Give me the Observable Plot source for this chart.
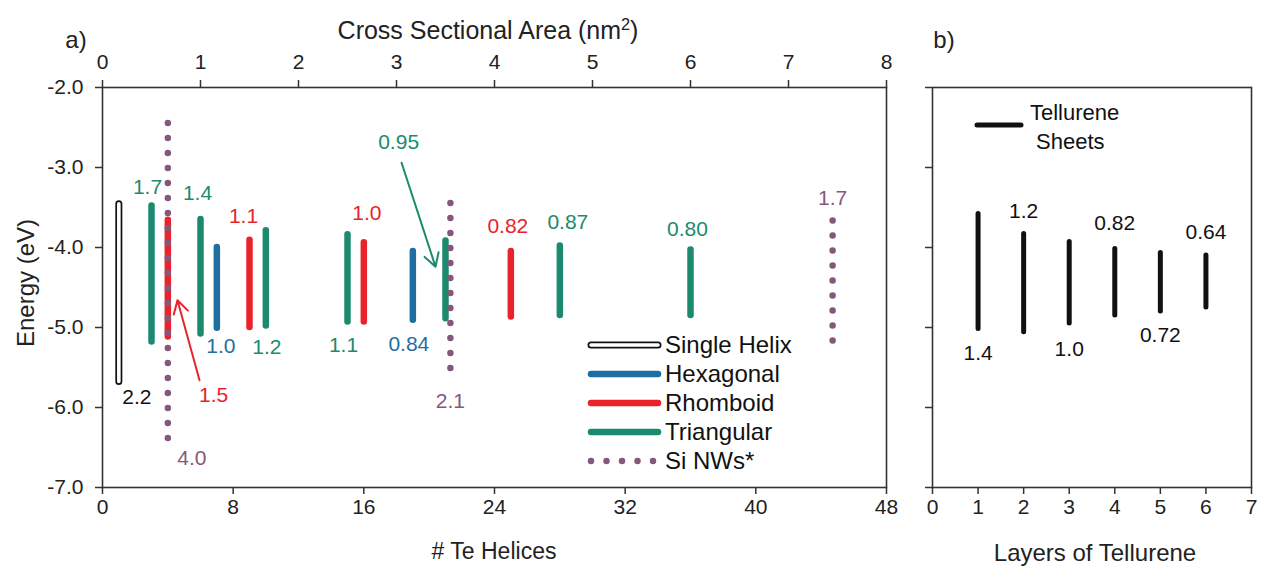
<!DOCTYPE html>
<html>
<head>
<meta charset="utf-8">
<script src="https://cdn.jsdelivr.net/npm/d3@7"></script>
<script src="https://cdn.jsdelivr.net/npm/@observablehq/plot@0.6"></script>
<style>
  html, body { margin: 0; padding: 0; background: #fff; }
  #wrap { position: relative; width: 1263px; height: 568px; overflow: hidden; font-family: "Liberation Sans", Arial, sans-serif; color: #222; }
  #wrap > .abs { position: absolute; }
  .title { position: absolute; white-space: nowrap; transform: translate(-50%, -50%); }
</style>
</head>
<body>
<div id="wrap"></div>
<script>
// ---------- data: panel a ----------
const shapeNames  = ["Single Helix", "Hexagonal", "Rhomboid", "Triangular", "Si NWs*"];
const shapeColors = ["#111111", "#1f6ea3", "#e8232b", "#1b8a6e", "#85587a"];

const wireShape   = ["Single Helix", "Triangular", "Rhomboid", "Triangular", "Hexagonal", "Rhomboid", "Triangular",
                     "Triangular", "Rhomboid", "Hexagonal", "Triangular", "Rhomboid", "Triangular", "Triangular",
                     "Si NWs*", "Si NWs*", "Si NWs*"];
const wireHelices = [1, 3, 4, 6, 7, 9, 10, 15, 16, 19, 21, 25, 28, 36, 4, 21.3, 44.7];
const wireTop     = [-3.46, -3.48, -3.66, -3.65, -4.00, -3.91, -3.79, -3.84, -3.94, -4.05, -3.92, -4.05, -3.98, -4.03, -2.45, -3.45, -3.67];
const wireBottom  = [-5.68, -5.18, -5.12, -5.08, -5.01, -5.00, -4.98, -4.93, -4.93, -4.91, -4.89, -4.87, -4.85, -4.85, -6.44, -5.55, -5.22];
const wireGap     = ["2.2", "1.7", "1.5", "1.4", "1.0", "1.1", "1.2", "1.1", "1.0", "0.84", "0.95", "0.82", "0.87", "0.80", "4.0", "2.1", "1.7"];

// label placement (styling only): which end, pixel offsets
const labelEnd = ["bottom","top","arrow","top","bottom","top","bottom","bottom","top","bottom","arrow","top","top","top","bottom","bottom","top"];
const labelDx  = [18, -4, 0, -3, 4, -6, 1, -4, 3, -4, 0, -3, 8, -3, 24, 0, 0];
const labelDy  = [15, -19, 0, -26, 18, -24, 21, 23, -29, 24, 0, -25, -24, -21, 16, 30, -23];

// arrow annotations (gap label placed at tail, pointing to bar)
const arrowShape = ["Rhomboid", "Triangular"];
const arrowText  = ["1.5", "0.95"];
const arrowLabelX = [6.8, 18.13];
const arrowLabelY = [-5.85, -2.69];
const arrowX1 = [5.94, 18.31];
const arrowY1 = [-5.66, -2.94];
const arrowX2 = [4.59, 20.39];
const arrowY2 = [-4.66, -4.24];

const energyTicks = [-2, -3, -4, -5, -6, -7];
const helixTicks  = [0, 8, 16, 24, 32, 40, 48];
const areaTicks   = [0, 1, 2, 3, 4, 5, 6, 7, 8];
const helicesPerArea = 6;

// ---------- data: panel b ----------
const layers      = [1, 2, 3, 4, 5, 6];
const sheetTop    = [-3.58, -3.83, -3.93, -4.02, -4.07, -4.10];
const sheetBottom = [-5.02, -5.06, -4.95, -4.85, -4.80, -4.75];
const sheetGap    = ["1.4", "1.2", "1.0", "0.82", "0.72", "0.64"];
const sheetLabelEnd = ["bottom", "top", "bottom", "top", "bottom", "top"];
const sheetLabelDy  = [24, -23, 26, -26, 24, -23];
const layerTicks  = [0, 1, 2, 3, 4, 5, 6, 7];

// ---------- build ----------
const color = name => shapeColors[shapeNames.indexOf(name)];
const FONT = "Liberation Sans, Arial, sans-serif";
const wires = wireHelices.map((h, i) => ({shape: wireShape[i], x: h, top: wireTop[i], bottom: wireBottom[i], gap: wireGap[i]}));
const solid = wires.filter(d => d.shape !== "Single Helix" && d.shape !== "Si NWs*");
const helix = wires.filter(d => d.shape === "Single Helix");
const siNW  = wires.filter(d => d.shape === "Si NWs*");

const labelMarks = wires.map((d, i) => labelEnd[i] === "arrow" ? null :
  Plot.text([d], {x: "x", y: labelEnd[i] === "top" ? "top" : "bottom", text: "gap",
    dx: labelDx[i], dy: labelDy[i], fill: color(d.shape), fontSize: 21, fontFamily: FONT})).filter(Boolean);

const arrows = arrowShape.map((s, i) => ({shape: s, text: arrowText[i], lx: arrowLabelX[i], ly: arrowLabelY[i],
  x1: arrowX1[i], y1: arrowY1[i], x2: arrowX2[i], y2: arrowY2[i]}));

const axisStyle = {fontSize: 21, fontFamily: FONT};

const plotA = Plot.plot({
  width: 900, height: 568,
  marginLeft: 102, marginRight: 14, marginTop: 87, marginBottom: 81,
  x: {domain: [0, 48]},
  y: {domain: [-7, -2]},
  style: {fontSize: "21px", fontFamily: FONT, color: "#222", background: "transparent", overflow: "visible"},
  marks: [
    Plot.axisY({ticks: energyTicks, tickFormat: d => d.toFixed(1), tickSize: 7, tickPadding: 12, label: null, stroke: "#333", strokeWidth: 1.5, ...axisStyle}),
    Plot.axisX({anchor: "bottom", ticks: helixTicks, tickFormat: d => String(d), tickSize: 7, tickPadding: 5, label: null, stroke: "#333", strokeWidth: 1.5, ...axisStyle}),
    Plot.axisX({anchor: "top", ticks: areaTicks.map(a => a * helicesPerArea), tickFormat: d => String(d / helicesPerArea), tickSize: 8, tickPadding: 11, label: null, stroke: "#333", strokeWidth: 1.5, ...axisStyle}),
    Plot.frame({stroke: "#333", strokeWidth: 1.6}),
    Plot.ruleX(helix, {x: "x", y1: "top", y2: "bottom", stroke: "#111", strokeWidth: 7, strokeLinecap: "round"}),
    Plot.ruleX(helix, {x: "x", y1: "top", y2: "bottom", stroke: "#fff", strokeWidth: 3.6, strokeLinecap: "round"}),
    Plot.ruleX(solid, {x: "x", y1: "top", y2: "bottom", stroke: d => color(d.shape), strokeWidth: 6.5, strokeLinecap: "round"}),
    Plot.ruleX(siNW, {x: "x", y1: "top", y2: "bottom", stroke: color("Si NWs*"), strokeWidth: 6.5, strokeLinecap: "round", strokeDasharray: "0 15"}),
    ...labelMarks,
    Plot.arrow(arrows, {x1: "x1", y1: "y1", x2: "x2", y2: "y2", stroke: d => color(d.shape), strokeWidth: 2, headLength: 11}),
    Plot.text(arrows, {x: "lx", y: "ly", text: "text", fill: d => color(d.shape), fontSize: 21, fontFamily: FONT})
  ]
});

const sheets = layers.map((l, i) => ({x: l, top: sheetTop[i], bottom: sheetBottom[i], gap: sheetGap[i]}));
const plotB = Plot.plot({
  width: 363, height: 568,
  marginLeft: 32, marginRight: 12, marginTop: 87, marginBottom: 81,
  x: {domain: [0, 7]},
  y: {domain: [-7, -2]},
  style: {fontSize: "21px", fontFamily: FONT, color: "#222", background: "transparent", overflow: "visible"},
  marks: [
    Plot.axisY({ticks: energyTicks, tickFormat: () => "", tickSize: 7, label: null, stroke: "#333", strokeWidth: 1.5}),
    Plot.axisX({anchor: "bottom", ticks: layerTicks, tickFormat: d => String(d), tickSize: 7, tickPadding: 5, label: null, stroke: "#333", strokeWidth: 1.5, ...axisStyle}),
    Plot.frame({stroke: "#333", strokeWidth: 1.6}),
    Plot.ruleX(sheets, {x: "x", y1: "top", y2: "bottom", stroke: "#111", strokeWidth: 5, strokeLinecap: "round"}),
    ...sheets.map((d, i) => Plot.text([d], {x: "x", y: sheetLabelEnd[i] === "top" ? "top" : "bottom", text: "gap",
      dy: sheetLabelDy[i], fill: "#111", fontSize: 21, fontFamily: FONT}))
  ]
});

const wrap = document.getElementById("wrap");
plotA.classList.add("abs"); plotA.style.left = "0px"; plotA.style.top = "0px";
plotB.classList.add("abs"); plotB.style.left = "900px"; plotB.style.top = "0px";
wrap.appendChild(plotA);
wrap.appendChild(plotB);

// ---------- titles ----------
function addTitle(html, x, y, size, rotate) {
  const d = document.createElement("div");
  d.className = "title";
  d.innerHTML = html;
  d.style.left = x + "px"; d.style.top = y + "px"; d.style.fontSize = size + "px";
  if (rotate) d.style.transform = "translate(-50%, -50%) rotate(-90deg)";
  wrap.appendChild(d);
}
addTitle("a)", 76, 40, 24);
addTitle("b)", 944, 40, 24);
addTitle("Cross Sectional Area (nm<sup style='font-size:0.65em'>2</sup>)", 488, 30, 25);
addTitle("Energy (eV)", 26, 283, 24, true);
addTitle("# Te Helices", 494, 551, 23);
addTitle("Layers of Tellurene", 1095, 553, 24);

// ---------- legend (panel a) ----------
const legA = d3.select(wrap).append("svg").attr("class", "abs")
  .style("left", "580px").style("top", "328px").attr("width", 240).attr("height", 150);
const rowH = 29, x0 = 11, x1 = 78;
shapeNames.forEach((name, i) => {
  const y = 17 + i * rowH;
  if (name === "Single Helix") {
    legA.append("line").attr("x1", x0).attr("x2", x1).attr("y1", y).attr("y2", y)
      .attr("stroke", "#111").attr("stroke-width", 7).attr("stroke-linecap", "round");
    legA.append("line").attr("x1", x0).attr("x2", x1).attr("y1", y).attr("y2", y)
      .attr("stroke", "#fff").attr("stroke-width", 3.6).attr("stroke-linecap", "round");
  } else {
    const ln = legA.append("line").attr("x1", x0).attr("x2", x1).attr("y1", y).attr("y2", y)
      .attr("stroke", shapeColors[i]).attr("stroke-width", 6.5).attr("stroke-linecap", "round");
    if (name === "Si NWs*") ln.attr("stroke-dasharray", "0 15.5");
  }
  legA.append("text").attr("x", x1 + 7).attr("y", y).attr("dy", "0.35em")
    .attr("font-size", 24).attr("font-family", FONT).attr("fill", "#111").text(name);
});

// ---------- legend (panel b) ----------
const legB = d3.select(wrap).append("svg").attr("class", "abs")
  .style("left", "970px").style("top", "95px").attr("width", 150).attr("height", 65);
legB.append("line").attr("x1", 7).attr("x2", 51).attr("y1", 30).attr("y2", 30)
  .attr("stroke", "#111").attr("stroke-width", 5).attr("stroke-linecap", "round");
legB.append("text").attr("x", 60).attr("y", 17).attr("dy", "0.35em").attr("font-size", 22).attr("font-family", FONT).attr("fill", "#111").text("Tellurene");
legB.append("text").attr("x", 66).attr("y", 46).attr("dy", "0.35em").attr("font-size", 22).attr("font-family", FONT).attr("fill", "#111").text("Sheets");
</script>
</body>
</html>
